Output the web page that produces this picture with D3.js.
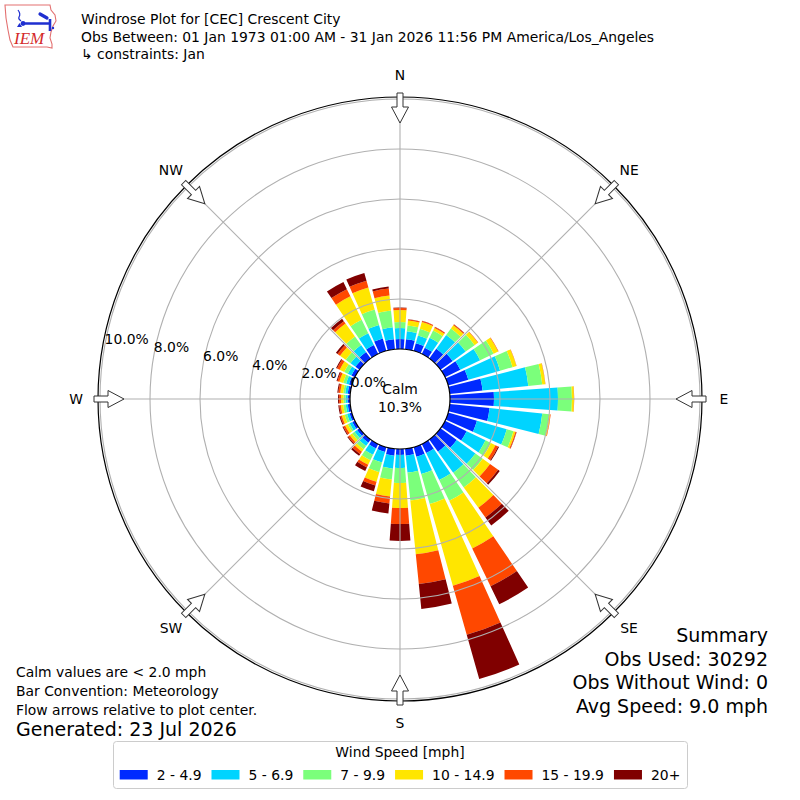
<!DOCTYPE html>
<html>
<head>
<meta charset="utf-8">
<script src="https://cdn.jsdelivr.net/npm/d3@7"></script>
<style>
  body { margin: 0; background: #fff; }
  svg text { font-family: "DejaVu Sans", sans-serif; fill: #000; }
</style>
</head>
<body>
<div id="chart"></div>
<script>

// Wind directions (degrees, meteorological, 10 degree bins)
var directions = [0, 10, 20, 30, 40, 50, 60, 70, 80, 90, 100, 110,
  120, 130, 140, 150, 160, 170, 180, 190, 200, 210, 220, 230,
  240, 250, 260, 270, 280, 290, 300, 310, 320, 330, 340, 350];

var speedBins = ["2 - 4.9", "5 - 6.9", "7 - 9.9", "10 - 14.9", "15 - 19.9", "20+"];

// frequency (%) per direction for each speed bin
var spd2 = [0.40, 0.40, 0.32, 0.28, 0.48, 0.60, 0.68, 0.84, 1.32, 1.76, 1.60, 1.20,
  0.96, 0.80, 0.60, 0.40, 0.40, 0.28, 0.24, 0.28, 0.20, 0.20, 0.16, 0.12,
  0.12, 0.10, 0.10, 0.10, 0.10, 0.12, 0.16, 0.20, 0.32, 0.40, 0.52, 0.40];
var spd5 = [0.44, 0.32, 0.32, 0.44, 0.68, 0.64, 0.88, 1.32, 1.84, 2.56, 2.12, 1.24,
  0.84, 0.92, 1.04, 1.20, 0.72, 0.68, 0.52, 0.52, 0.44, 0.28, 0.16, 0.12,
  0.12, 0.10, 0.08, 0.08, 0.10, 0.12, 0.16, 0.24, 0.34, 0.52, 0.56, 0.48];
var spd7 = [0.24, 0.24, 0.28, 0.32, 0.32, 0.44, 0.60, 0.52, 0.56, 0.56, 0.28, 0.28,
  0.24, 0.36, 0.72, 0.92, 1.24, 1.12, 0.60, 0.44, 0.40, 0.24, 0.16, 0.12,
  0.08, 0.10, 0.10, 0.08, 0.08, 0.12, 0.16, 0.24, 0.42, 0.60, 0.64, 0.68];
var spd10 = [0.48, 0.20, 0.28, 0.12, 0.16, 0.16, 0.20, 0.16, 0.12, 0.08, 0.04, 0.08,
  0.20, 0.36, 1.00, 2.12, 3.40, 2.16, 1.00, 0.68, 0.40, 0.20, 0.12, 0.12,
  0.12, 0.12, 0.10, 0.10, 0.12, 0.16, 0.20, 0.28, 0.64, 1.04, 0.92, 0.60];
var spd15 = [0.08, 0.04, 0.04, 0.04, 0.04, 0.02, 0.02, 0.01, 0.01, 0.01, 0.02, 0.04,
  0.12, 0.40, 0.48, 1.68, 2.04, 1.20, 0.64, 0.28, 0.16, 0.12, 0.12, 0.08,
  0.08, 0.06, 0.06, 0.08, 0.08, 0.08, 0.12, 0.12, 0.12, 0.32, 0.28, 0.28];
var spd20 = [0.02, 0.01, 0.01, 0.01, 0.01, 0.00, 0.00, 0.00, 0.00, 0.00, 0.00, 0.01,
  0.04, 0.08, 0.40, 0.80, 1.84, 1.00, 0.68, 0.40, 0.24, 0.16, 0.08, 0.04,
  0.04, 0.04, 0.04, 0.04, 0.04, 0.04, 0.04, 0.08, 0.12, 0.32, 0.32, 0.08];

var radialTicks = [0, 2, 4, 6, 8, 10];
var compassDirs = [0, 45, 90, 135, 180, 225, 270, 315];
var compassLabels = ["N", "NE", "E", "SE", "S", "SW", "W", "NW"];
var calmPct = 10.3;

var titleLines = [
  "Windrose Plot for [CEC] Crescent City",
  "Obs Between: 01 Jan 1973 01:00 AM - 31 Jan 2026 11:56 PM America/Los_Angeles",
  "\u21b3 constraints: Jan"
];
var noteLines = [
  "Calm values are < 2.0 mph",
  "Bar Convention: Meteorology",
  "Flow arrows relative to plot center."
];
var generatedText = "Generated: 23 Jul 2026";
var summaryLines = ["Summary", "Obs Used: 30292", "Obs Without Wind: 0", "Avg Speed: 9.0 mph"];
var legendTitle = "Wind Speed [mph]";

// jet colours
var binColors = ["#002aff", "#00d4ff", "#7bff7b", "#ffe600", "#ff4800", "#800000"];


WindRose = function(_parentElement){
  this.parentElement = _parentElement;
  this.initVis();
}

WindRose.prototype.initVis = function(){
  var vis = this;

  vis.width = 800;
  vis.height = 800;
  vis.cx = 400;
  vis.cy = 399;

  vis.svg = d3.select("#" + vis.parentElement).append("svg")
      .attr("width", vis.width)
      .attr("height", vis.height);

  // radius for percentage, calm circle takes the middle
  vis.r = d3.scaleLinear()
      .domain([0, 10])
      .range([50, 300]);
  vis.outer = vis.r(10) + 2;

  vis.rose = vis.svg.append("g")
      .attr("transform", "translate(" + vis.cx + "," + vis.cy + ")");

  vis.barLayer = vis.rose.append("g").attr("class", "bars");
  vis.gridLayer = vis.rose.append("g").attr("class", "grid");

  vis.wrangleData();
}

WindRose.prototype.wrangleData = function(){
  var vis = this;
  var keys = ["s0", "s1", "s2", "s3", "s4", "s5"];
  var series = [spd2, spd5, spd7, spd10, spd15, spd20];

  var table = directions.map(function(d, i){
    var row = { dir: d };
    keys.forEach(function(k, j){ row[k] = series[j][i]; });
    return row;
  });

  vis.stacked = d3.stack().keys(keys)(table);
  vis.updateVis();
}

WindRose.prototype.updateVis = function(){
  var vis = this;
  var rad = function(deg){ return deg * Math.PI / 180; };
  var half = 4.2;

  var arc = d3.arc()
      .innerRadius(function(d){ return vis.r(d[0]); })
      .outerRadius(function(d){ return vis.r(d[1]); })
      .startAngle(function(d){ return rad(d.data.dir - half); })
      .endAngle(function(d){ return rad(d.data.dir + half); });

  vis.barLayer.selectAll("g.layer")
      .data(vis.stacked)
    .enter().append("g")
      .attr("class", "layer")
      .attr("fill", function(d, i){ return binColors[i]; })
    .selectAll("path")
      .data(function(d){ return d.filter(function(p){ return p[1] - p[0] > 0; }); })
    .enter().append("path")
      .attr("d", arc);

  // rings
  vis.gridLayer.selectAll(".ring")
      .data(radialTicks.slice(1))
    .enter().append("circle")
      .attr("class", "ring")
      .attr("r", function(d){ return vis.r(d); })
      .attr("fill", "none")
      .attr("stroke", "#b0b0b0")
      .attr("stroke-width", 1.1);

  // spokes
  vis.gridLayer.selectAll(".spoke")
      .data(compassDirs)
    .enter().append("line")
      .attr("class", "spoke")
      .attr("x1", 0).attr("y1", 0)
      .attr("x2", function(d){ return vis.outer * Math.sin(rad(d)); })
      .attr("y2", function(d){ return -vis.outer * Math.cos(rad(d)); })
      .attr("stroke", "#b0b0b0")
      .attr("stroke-width", 1.1);

  vis.rose.append("circle")
      .attr("r", vis.outer)
      .attr("fill", "none")
      .attr("stroke", "#000")
      .attr("stroke-width", 1.2);

  // flow arrows, pointing to plot center
  var ro = vis.outer + 4, rs = ro - 14, rt = ro - 30;
  var arrowPts = [[-3, -ro], [3, -ro], [3, -rs], [8.5, -rs], [0, -rt], [-8.5, -rs], [-3, -rs]];
  vis.rose.selectAll(".flow")
      .data(compassDirs)
    .enter().append("polygon")
      .attr("class", "flow")
      .attr("points", arrowPts.map(function(p){ return p.join(","); }).join(" "))
      .attr("transform", function(d){ return "rotate(" + d + ")"; })
      .attr("fill", "#fff")
      .attr("stroke", "#333")
      .attr("stroke-width", 1);

  // compass labels
  vis.rose.selectAll(".compass")
      .data(compassDirs)
    .enter().append("text")
      .attr("class", "compass")
      .attr("x", function(d){ return 324 * Math.sin(rad(d)); })
      .attr("y", function(d){ return -324 * Math.cos(rad(d)); })
      .attr("dy", "0.36em")
      .attr("text-anchor", "middle")
      .style("font-size", "13.9px")
      .text(function(d, i){ return compassLabels[i]; });

  // calm circle
  vis.rose.append("circle")
      .attr("r", vis.r(0))
      .attr("fill", "#fff")
      .attr("stroke", "#000")
      .attr("stroke-width", 1.2);

  vis.rose.append("text")
      .attr("y", -5)
      .attr("text-anchor", "middle")
      .style("font-size", "13.9px")
      .text("Calm");
  vis.rose.append("text")
      .attr("y", 13)
      .attr("text-anchor", "middle")
      .style("font-size", "13.9px")
      .text(calmPct.toFixed(1) + "%");

  // radial labels at 170 deg (math angle)
  var la = rad(170);
  vis.rose.selectAll(".rlabel")
      .data(radialTicks)
    .enter().append("text")
      .attr("class", "rlabel")
      .attr("x", function(d){ return vis.r(d) * Math.cos(la); })
      .attr("y", function(d){ return -vis.r(d) * Math.sin(la) - 3.3; })
      .style("font-size", "13.9px")
      .text(function(d){ return d.toFixed(1) + "%"; });

  vis.drawText();
  vis.drawLegend();
  vis.drawLogo();
}

WindRose.prototype.drawText = function(){
  var vis = this;

  vis.svg.selectAll(".title")
      .data(titleLines)
    .enter().append("text")
      .attr("class", "title")
      .attr("x", 81)
      .attr("y", function(d, i){ return 24 + i * 17.5; })
      .style("font-size", "13.9px")
      .text(function(d){ return d; });

  vis.svg.selectAll(".note")
      .data(noteLines)
    .enter().append("text")
      .attr("class", "note")
      .attr("x", 16)
      .attr("y", function(d, i){ return 677 + i * 19; })
      .style("font-size", "13.9px")
      .text(function(d){ return d; });

  vis.svg.append("text")
      .attr("x", 16)
      .attr("y", 736)
      .style("font-size", "19px")
      .text(generatedText);

  vis.svg.selectAll(".summary")
      .data(summaryLines)
    .enter().append("text")
      .attr("class", "summary")
      .attr("x", 768)
      .attr("y", function(d, i){ return 642 + i * 23.5; })
      .attr("text-anchor", "end")
      .style("font-size", "19px")
      .text(function(d){ return d; });
}

WindRose.prototype.drawLegend = function(){
  var vis = this;
  var g = vis.svg.append("g").attr("class", "legend");

  g.append("rect")
      .attr("x", 113.5).attr("y", 741.5)
      .attr("width", 574).attr("height", 47)
      .attr("rx", 3)
      .attr("fill", "#fff")
      .attr("stroke", "#cccccc");

  g.append("text")
      .attr("x", 400).attr("y", 757)
      .attr("text-anchor", "middle")
      .style("font-size", "13.9px")
      .text(legendTitle);

  var items = g.selectAll(".item")
      .data(speedBins)
    .enter().append("g")
      .attr("class", "item");

  items.append("rect")
      .attr("width", 28).attr("height", 9.5)
      .attr("y", 770)
      .attr("fill", function(d, i){ return binColors[i]; });

  items.append("text")
      .attr("x", 37).attr("y", 779.5)
      .style("font-size", "13.9px")
      .text(function(d){ return d; });

  // lay the entries out in a centered row
  var widths = [];
  items.selectAll("text").each(function(){ widths.push(this.getComputedTextLength()); });
  var total = d3.sum(widths) + speedBins.length * 37 + (speedBins.length - 1) * 10;
  var x = 400 - total / 2;
  items.each(function(d, i){
    d3.select(this).attr("transform", "translate(" + x + ",0)");
    x += 37 + widths[i] + 10;
  });
}

WindRose.prototype.drawLogo = function(){
  var vis = this;
  var g = vis.svg.append("g").attr("class", "logo");

  // state outline
  g.append("path")
      .attr("d", "M5,5 L50,5 L51,10 L55,15 L56,21 L53,26 L51,32 L50,38 L52,44 L52,48 L47,47 L13,47 L10,40 L8,30 L6,18 Z")
      .attr("fill", "#fff")
      .attr("stroke", "#e37070")
      .attr("stroke-width", 1.1);

  var blue = "#1f2fd0";
  g.append("path")
      .attr("d", "M22,23.5 L50,23.5 M50,19 L50,31")
      .attr("fill", "none")
      .attr("stroke", blue)
      .attr("stroke-width", 2.6);
  g.append("path")
      .attr("d", "M40,14 L47,18")
      .attr("stroke", blue)
      .attr("stroke-width", 3.2)
      .attr("stroke-linecap", "round");
  g.append("path")
      .attr("d", "M18,10 Q21,14 19,17 Q18,19 21,21")
      .attr("fill", "none")
      .attr("stroke", blue)
      .attr("stroke-width", 1.2);
  g.append("circle").attr("cx", 23).attr("cy", 23.5).attr("r", 2.4).attr("fill", blue);
  g.append("path").attr("d", "M17,27 L19.5,23 L22,27 Z").attr("fill", blue);
  g.append("circle").attr("cx", 53).attr("cy", 28).attr("r", 1.2).attr("fill", blue);

  g.append("text")
      .attr("x", 14).attr("y", 44)
      .style("font-family", "'Liberation Serif', serif")
      .style("font-style", "italic")
      .style("font-size", "17px")
      .style("fill", "#d42a2a")
      .text("IEM");
}

var windrose = new WindRose("chart");

</script>
</body>
</html>
